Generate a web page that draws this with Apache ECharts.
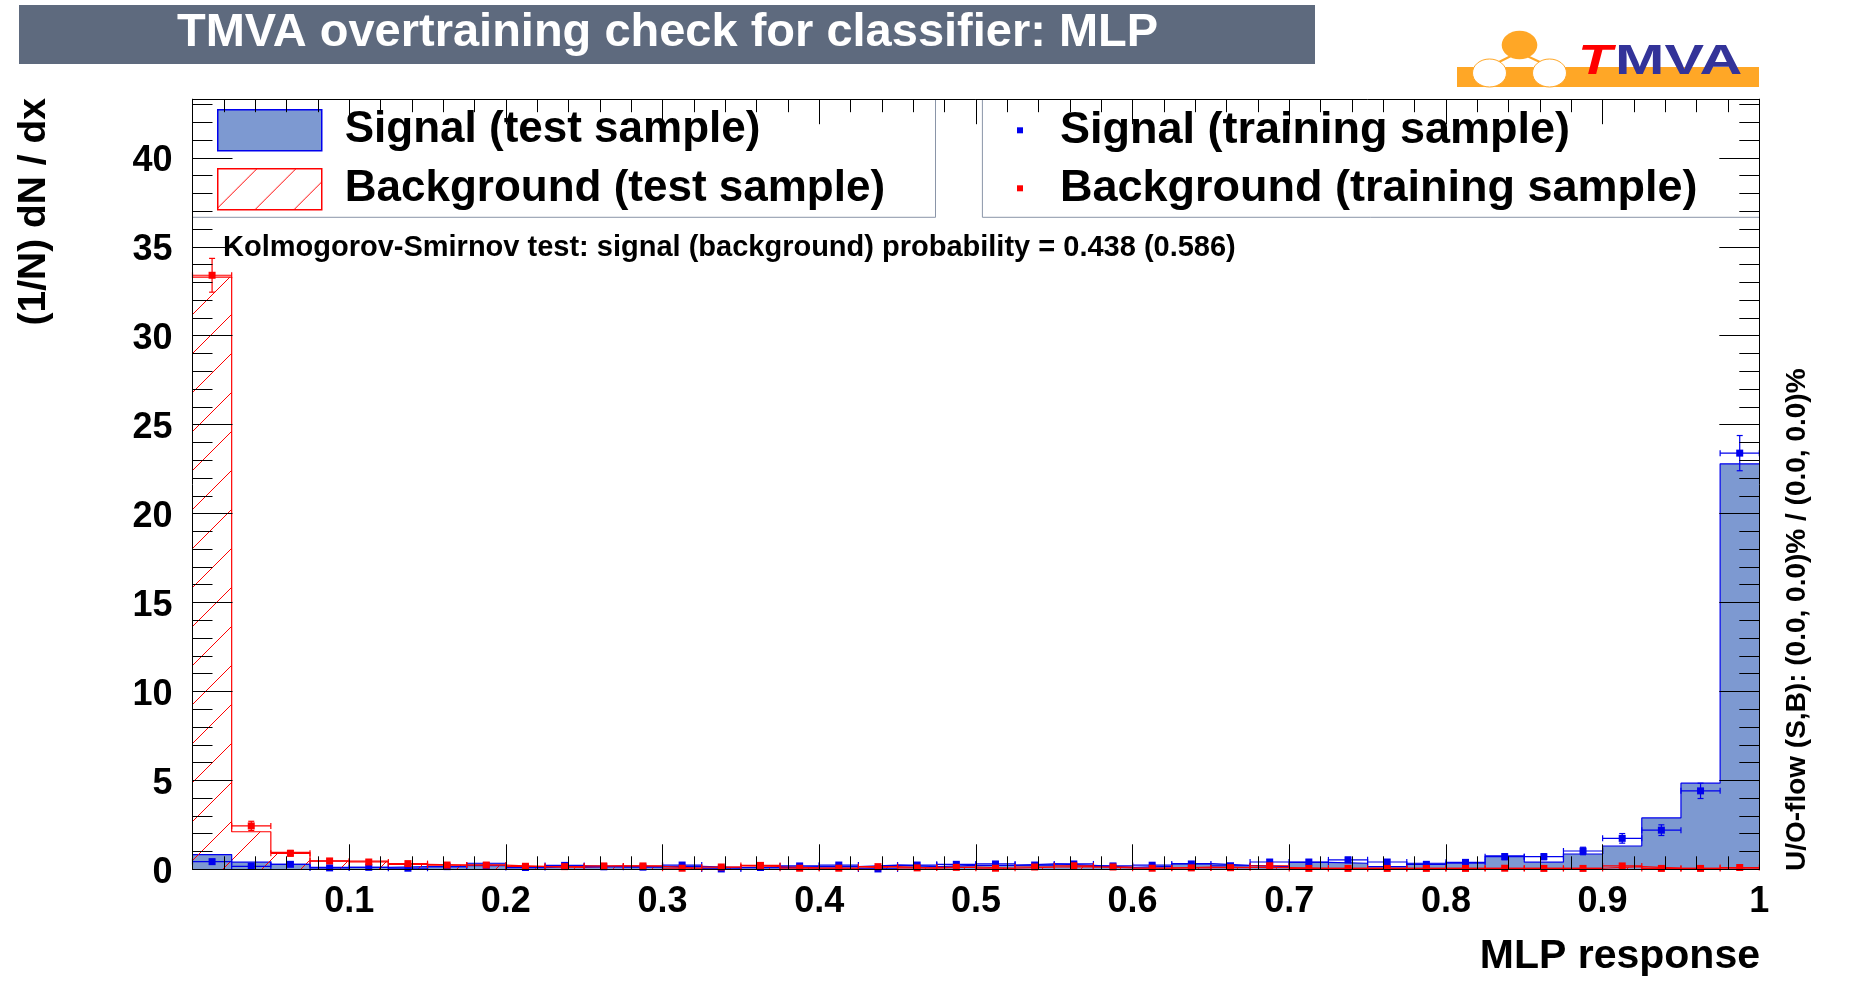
<!DOCTYPE html>
<html><head><meta charset="utf-8">
<script src="https://cdn.jsdelivr.net/npm/echarts@6/dist/echarts.min.js"></script>
<style>html,body{margin:0;padding:0;background:#fff}#c{width:1852px;height:987px}</style>
</head><body><div id="c"></div>
<script>
// ---- data ----
const xRange = [0, 1];
const nBins = 40;
const yRange = [0, 43.3];
const sigTest = [0.83,0.40,0.28,0.11,0.11,0.15,0.15,0.34,0.09,0.19,0.15,0.15,0.17,0.09,0.09,0.15,0.15,0.24,0.15,0.22,
                 0.22,0.30,0.22,0.11,0.17,0.32,0.22,0.15,0.39,0.34,0.15,0.34,0.34,0.75,0.40,0.86,1.31,2.89,4.84,22.8];
const bkgTest = [33.3,2.11,0.95,0.46,0.46,0.28,0.23,0.23,0.15,0.11,0.19,0.17,0.06,0.13,0.15,0.08,0.06,0.15,0.06,0.13,
                 0.06,0.13,0.15,0.08,0.07,0.13,0.11,0.09,0.05,0.05,0.05,0.05,0.05,0.06,0.05,0.06,0.15,0.07,0.06,0.06];
const sigTrain = [0.43,0.17,0.28,0.08,0.11,0.06,0.15,0.20,0.10,0.22,0.14,0.12,0.24,0.02,0.10,0.19,0.24,0.02,0.24,0.28,
                  0.30,0.24,0.30,0.19,0.23,0.30,0.20,0.41,0.41,0.53,0.41,0.28,0.39,0.71,0.71,1.03,1.74,2.20,4.41,23.4];
const sigTrainErr = [0.13,0.08,0.11,0.06,0.07,0.05,0.08,0.09,0.06,0.10,0.08,0.07,0.10,0.03,0.06,0.09,0.10,0.03,0.10,0.11,
                     0.11,0.10,0.11,0.09,0.10,0.11,0.09,0.13,0.13,0.15,0.13,0.11,0.13,0.17,0.17,0.21,0.27,0.30,0.43,0.99];
const bkgTrain = [33.4,2.44,0.90,0.47,0.41,0.32,0.24,0.24,0.17,0.15,0.19,0.19,0.06,0.13,0.22,0.06,0.06,0.15,0.08,0.11,
                  0.06,0.13,0.20,0.13,0.06,0.08,0.09,0.20,0.05,0.05,0.05,0.05,0.05,0.06,0.05,0.05,0.19,0.05,0.05,0.10];
const bkgTrainErr = [0.95,0.26,0.16,0.11,0.10,0.09,0.08,0.08,0.07,0.06,0.07,0.07,0.04,0.06,0.08,0.04,0.04,0.06,0.05,0.05,
                     0.04,0.06,0.07,0.06,0.04,0.05,0.05,0.07,0.04,0.04,0.04,0.04,0.04,0.04,0.04,0.04,0.07,0.04,0.04,0.05];
const seriesNames = ['Signal (test sample)','Background (test sample)','Signal (training sample)','Background (training sample)'];
const titleText = 'TMVA overtraining check for classifier: MLP';
const xTitle = 'MLP response';
const yTitle = '(1/N) dN / dx';
const ksText = 'Kolmogorov-Smirnov test: signal (background) probability = 0.438 (0.586)';
const flowText = 'U/O-flow (S,B): (0.0, 0.0)% / (0.0, 0.0)%';

// ---- helpers ----
const FONT = "'Liberation Sans', Arial, Helvetica, sans-serif";
const edges = Array.from({length: nBins + 1}, (_, i) => xRange[0] + i * (xRange[1] - xRange[0]) / nBins);
function stepData(vals) {
  const d = vals.map((v, i) => [edges[i], v]);
  d.push([edges[nBins], vals[nBins - 1]]);
  return d;
}
function makeHatch() {
  const s = 39, c = document.createElement('canvas');
  c.width = s; c.height = s;
  const g = c.getContext('2d');
  g.strokeStyle = '#ff0000'; g.lineWidth = 1;
  g.beginPath(); g.moveTo(-2, s + 2); g.lineTo(s + 2, -2); g.stroke();
  g.beginPath(); g.moveTo(-2, 2); g.lineTo(2, -2); g.stroke();
  g.beginPath(); g.moveTo(s - 2, s + 2); g.lineTo(s + 2, s - 2); g.stroke();
  return c;
}
const hatch = {image: makeHatch(), repeat: 'repeat'};

function errSeries(name, vals, errs, color) {
  return {
    name, type: 'custom', z: 5, animation: false, silent: true,
    itemStyle: {color},
    data: vals.map((v, i) => [edges[i], edges[i + 1], v, errs[i]]),
    encode: {x: [0, 1], y: 2},
    renderItem(params, api) {
      const x0 = api.value(0), x1 = api.value(1), v = api.value(2), e = api.value(3);
      const xm = (x0 + x1) / 2;
      const pL = api.coord([x0, v]), pR = api.coord([x1, v]);
      const pM = api.coord([xm, v]);
      const pT = api.coord([xm, v + e]), pB = api.coord([xm, Math.max(0, v - e)]);
      const st = {stroke: color, lineWidth: 1.2};
      const cap = 3, m = 3.5;
      const L = (a, b, c, d) => ({type: 'line', shape: {x1: a, y1: b, x2: c, y2: d}, style: st});
      return {type: 'group', children: [
        L(pL[0], pL[1], pR[0], pR[1]),
        L(pL[0], pL[1] - cap, pL[0], pL[1] + cap),
        L(pR[0], pR[1] - cap, pR[0], pR[1] + cap),
        L(pT[0], pT[1], pB[0], pB[1]),
        L(pT[0] - cap, pT[1], pT[0] + cap, pT[1]),
        L(pB[0] - cap, pB[1], pB[0] + cap, pB[1]),
        {type: 'rect', shape: {x: pM[0] - m, y: pM[1] - m, width: 2 * m, height: 2 * m}, style: {fill: color}}
      ]};
    }
  };
}

const G = {left: 192.5, right: 92.7, top: 99.2, bottom: 117.7};
const black = {color: '#000', width: 1};
const labelFont = {fontSize: 36, fontWeight: 'bold', color: '#000', fontFamily: FONT};
function xAx(pos) {
  return {
    type: 'value', min: xRange[0], max: xRange[1], interval: 0.1, position: pos, z: 10,
    axisLine: {show: true, onZero: false, lineStyle: black},
    axisTick: {show: true, inside: true, length: 25, lineStyle: black},
    minorTick: {show: true, splitNumber: 5, length: 13, lineStyle: black},
    splitLine: {show: false}, minorSplitLine: {show: false},
    axisLabel: pos === 'bottom'
      ? Object.assign({show: true, showMinLabel: false, margin: 15}, labelFont)
      : {show: false}
  };
}
function yAx(pos) {
  return {
    type: 'value', min: yRange[0], max: yRange[1], interval: 5, position: pos, z: 10,
    axisLine: {show: true, onZero: false, lineStyle: black},
    axisTick: {show: true, inside: true, length: 40, lineStyle: black},
    minorTick: {show: true, splitNumber: 5, length: 20, lineStyle: black},
    splitLine: {show: false}, minorSplitLine: {show: false},
    axisLabel: pos === 'left'
      ? Object.assign({show: true, showMaxLabel: false, margin: 20,
          formatter: v => '{a|' + v + '}',
          rich: {a: Object.assign({padding: [7, 0, 0, 0]}, labelFont)}}, labelFont)
      : {show: false}
  };
}

const orange = '#ffa726';
const frameGray = '#8a95a8';
const option = {
  animation: false,
  backgroundColor: '#ffffff',
  title: [{
    text: titleText, left: 177, top: 10, padding: 0,
    textStyle: {color: '#ffffff', fontSize: 47, fontWeight: 'bold', fontFamily: FONT, lineHeight: 47}
  }, {
    text: xTitle, right: 92, top: 936.5, padding: 0,
    textStyle: {color: '#000', fontSize: 41, fontWeight: 'bold', fontFamily: FONT, lineHeight: 41}
  }, {
    text: ksText, left: 223, top: 233.5, padding: 0,
    textStyle: {color: '#000', fontSize: 29, fontWeight: 'bold', fontFamily: FONT, lineHeight: 29}
  }],
  grid: Object.assign({containLabel: false, outerBoundsMode: 'none'}, G),
  xAxis: [xAx('bottom'), xAx('top')],
  yAxis: [yAx('left'), yAx('right')],
  legend: [{
    left: 217, top: 108.3, padding: 0, orient: 'vertical', selectedMode: false,
    itemWidth: 104, itemHeight: 41, itemGap: 15,
    textStyle: {fontSize: 44, fontWeight: 'bold', color: '#000', fontFamily: FONT, lineHeight: 41, padding: [0, 0, 0, 18]},
    data: [
      {name: seriesNames[0], icon: 'rect', itemStyle: {color: '#7d99d1', borderColor: '#0000ee', borderWidth: 1.5}},
      {name: seriesNames[1], icon: 'rect', itemStyle: {color: hatch, borderColor: '#ff0000', borderWidth: 1.5}}
    ]
  }, {
    left: 1017, top: 107.8, padding: 0, orient: 'vertical', selectedMode: false,
    itemWidth: 6, itemHeight: 6, itemGap: 13,
    textStyle: {fontSize: 45, fontWeight: 'bold', color: '#000', fontFamily: FONT, lineHeight: 41, padding: [0, 0, 0, 32]},
    data: [
      {name: seriesNames[2], icon: 'rect', itemStyle: {color: '#0000ee', borderWidth: 0}},
      {name: seriesNames[3], icon: 'rect', itemStyle: {color: '#ff0000', borderWidth: 0}}
    ]
  }],
  graphic: [
    // title box
    {type: 'rect', z: -10, shape: {x: 19, y: 5, width: 1296, height: 59}, style: {fill: '#5e6a7e'}},
    // legend frames
    {type: 'polyline', z: 1, shape: {points: [[935.5, 99.2], [935.5, 217.3], [192.5, 217.3]]}, style: {stroke: frameGray, lineWidth: 1, fill: null}},
    {type: 'polyline', z: 1, shape: {points: [[982.4, 99.2], [982.4, 217.3], [1759.3, 217.3]]}, style: {stroke: frameGray, lineWidth: 1, fill: null}},
    // TMVA logo
    {type: 'rect', shape: {x: 1457, y: 67, width: 302, height: 20}, style: {fill: orange}},
    {type: 'line', shape: {x1: 1511, y1: 56, x2: 1497, y2: 63}, style: {stroke: orange, lineWidth: 2}},
    {type: 'line', shape: {x1: 1527, y1: 56, x2: 1542, y2: 63}, style: {stroke: orange, lineWidth: 2}},
    {type: 'ellipse', shape: {cx: 1519.5, cy: 45, rx: 17.8, ry: 14.3}, style: {fill: orange}},
    {type: 'ellipse', shape: {cx: 1489.5, cy: 73, rx: 17, ry: 14}, style: {fill: '#ffffff', stroke: orange, lineWidth: 1}},
    {type: 'ellipse', shape: {cx: 1549.5, cy: 73, rx: 17, ry: 14}, style: {fill: '#ffffff', stroke: orange, lineWidth: 1}},
    {type: 'text', x: 1578, y: 62.5, scaleX: 1.3, style: {text: 'T', fill: '#ff0000', font: "italic bold 43px " + FONT, verticalAlign: 'middle', align: 'left'}},
    {type: 'text', x: 1615, y: 62.5, scaleX: 1.38, style: {text: 'MVA', fill: '#333399', font: "bold 43px " + FONT, verticalAlign: 'middle', align: 'left'}},
    // axis titles
    {type: 'text', x: 34, y: 98, rotation: Math.PI / 2, style: {text: yTitle, fill: '#000', font: "bold 39px " + FONT, align: 'right', verticalAlign: 'middle'}},
    {type: 'text', x: 1797, y: 871, rotation: Math.PI / 2, style: {text: flowText, fill: '#000', font: "bold 28px " + FONT, align: 'left', verticalAlign: 'middle'}}
  ],
  series: [
    {name: seriesNames[0], type: 'line', step: 'end', data: stepData(sigTest), symbol: 'none', showSymbol: false,
     silent: true, z: 2, lineStyle: {color: '#0000ee', width: 1.2}, itemStyle: {color: '#7d99d1'},
     areaStyle: {color: '#7d99d1', opacity: 1}},
    {name: seriesNames[1], type: 'line', step: 'end', data: stepData(bkgTest), symbol: 'none', showSymbol: false,
     silent: true, z: 3, lineStyle: {color: '#ff0000', width: 1.2}, itemStyle: {color: '#ff0000'},
     areaStyle: {color: hatch, opacity: 1}},
    errSeries(seriesNames[2], sigTrain, sigTrainErr, '#0000ee'),
    errSeries(seriesNames[3], bkgTrain, bkgTrainErr, '#ff0000')
  ]
};
const chart = echarts.init(document.getElementById('c'), null, {renderer: 'canvas'});
chart.setOption(option);
</script>
</body></html>
